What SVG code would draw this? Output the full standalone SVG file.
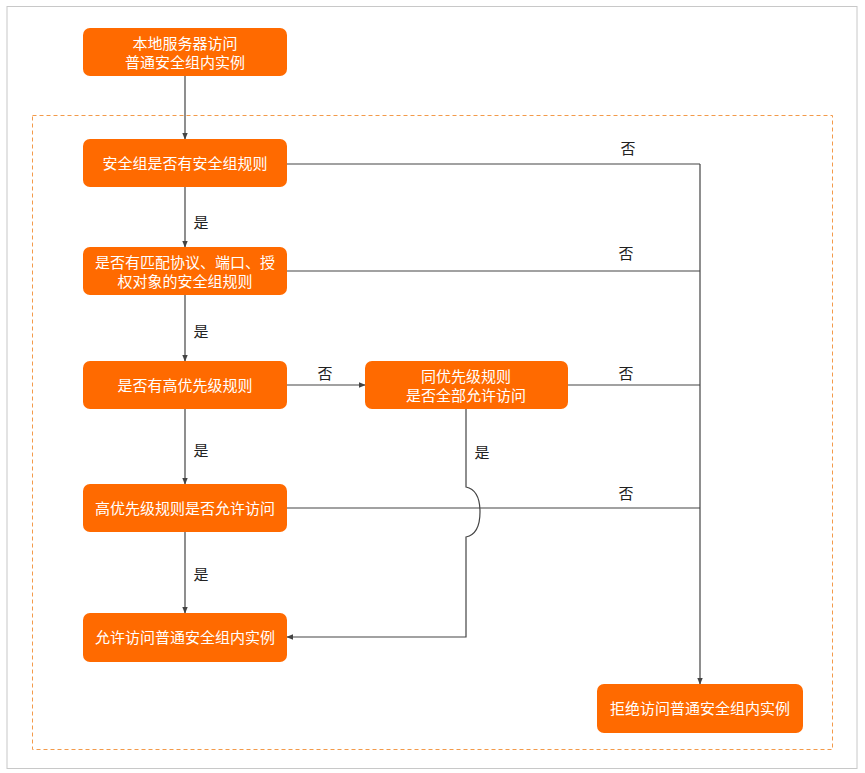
<svg xmlns="http://www.w3.org/2000/svg" width="865" height="773" viewBox="0 0 865 773">
<style>
.node rect{fill:#ff6a00;}
.node text{fill:#ffffff;font-family:"Noto Sans CJK SC","Liberation Sans",sans-serif;font-size:15px;text-anchor:middle;}
.lbl{fill:#222;font-family:"Noto Sans CJK SC","Liberation Sans",sans-serif;font-size:15px;text-anchor:middle;}
.ln{fill:none;stroke:#444;stroke-width:1.2;}
</style>
<defs>
<marker id="ah" viewBox="0 0 10 10" refX="9" refY="5" markerWidth="7" markerHeight="7" orient="auto" markerUnits="userSpaceOnUse">
<path d="M0,1 L10,5 L0,9 z" fill="#444"/>
</marker>
</defs>
<rect x="0" y="0" width="865" height="773" fill="#ffffff"/>
<rect x="7" y="6.5" width="850" height="762" fill="none" stroke="#c8c8c8" stroke-width="1"/>
<rect x="32.5" y="115.5" width="800" height="634" fill="none" stroke="#f39a4a" stroke-width="1" stroke-dasharray="4,3"/>
<g id="connectors">
<path class="ln" d="M185,76 V139" marker-end="url(#ah)"/>
<path class="ln" d="M185,187 V247" marker-end="url(#ah)"/>
<path class="ln" d="M185,295 V361" marker-end="url(#ah)"/>
<path class="ln" d="M185,409 V484" marker-end="url(#ah)"/>
<path class="ln" d="M185,532 V613" marker-end="url(#ah)"/>
<path class="ln" d="M287,385 H365" marker-end="url(#ah)"/>
<path class="ln" d="M287,164 H700"/>
<path class="ln" d="M287,271 H700"/>
<path class="ln" d="M568,385 H700"/>
<path class="ln" d="M287,508 H700"/>
<path class="ln" d="M700,164 V684" marker-end="url(#ah)"/>
<path class="ln" d="M466,409 V487 Q480,490 480,512 Q480,534 466,537 V637 H287" marker-end="url(#ah)"/>
<text class="lbl" x="628" y="154">否</text>
<text class="lbl" x="626" y="259">否</text>
<text class="lbl" x="325" y="379">否</text>
<text class="lbl" x="626" y="379">否</text>
<text class="lbl" x="626" y="499">否</text>
<text class="lbl" x="201" y="228">是</text>
<text class="lbl" x="201" y="337">是</text>
<text class="lbl" x="201" y="456">是</text>
<text class="lbl" x="201" y="580">是</text>
<text class="lbl" x="482" y="458">是</text>
</g>
<g id="n1" class="node"><rect x="83" y="28" width="204" height="48" rx="7"/><text x="185" y="48.5"><tspan x="185">本地服务器访问</tspan><tspan x="185" dy="19">普通安全组内实例</tspan></text></g>
<g id="n2" class="node"><rect x="83" y="139" width="204" height="48" rx="7"/><text x="185" y="168.5">安全组是否有安全组规则</text></g>
<g id="n3" class="node"><rect x="83" y="247" width="204" height="48" rx="7"/><text x="185" y="267.5"><tspan x="185">是否有匹配协议、端口、授</tspan><tspan x="185" dy="19">权对象的安全组规则</tspan></text></g>
<g id="n4" class="node"><rect x="83" y="361" width="204" height="48" rx="7"/><text x="185" y="390.5">是否有高优先级规则</text></g>
<g id="n5" class="node"><rect x="83" y="484" width="204" height="48" rx="7"/><text x="185" y="513.5">高优先级规则是否允许访问</text></g>
<g id="n6" class="node"><rect x="83" y="613" width="204" height="49" rx="7"/><text x="185" y="642.5">允许访问普通安全组内实例</text></g>
<g id="n7" class="node"><rect x="365" y="361" width="203" height="48" rx="7"/><text x="466" y="381.5"><tspan x="466">同优先级规则</tspan><tspan x="466" dy="19">是否全部允许访问</tspan></text></g>
<g id="n8" class="node"><rect x="597" y="684" width="206" height="49" rx="7"/><text x="700" y="713.5">拒绝访问普通安全组内实例</text></g>
</svg>
